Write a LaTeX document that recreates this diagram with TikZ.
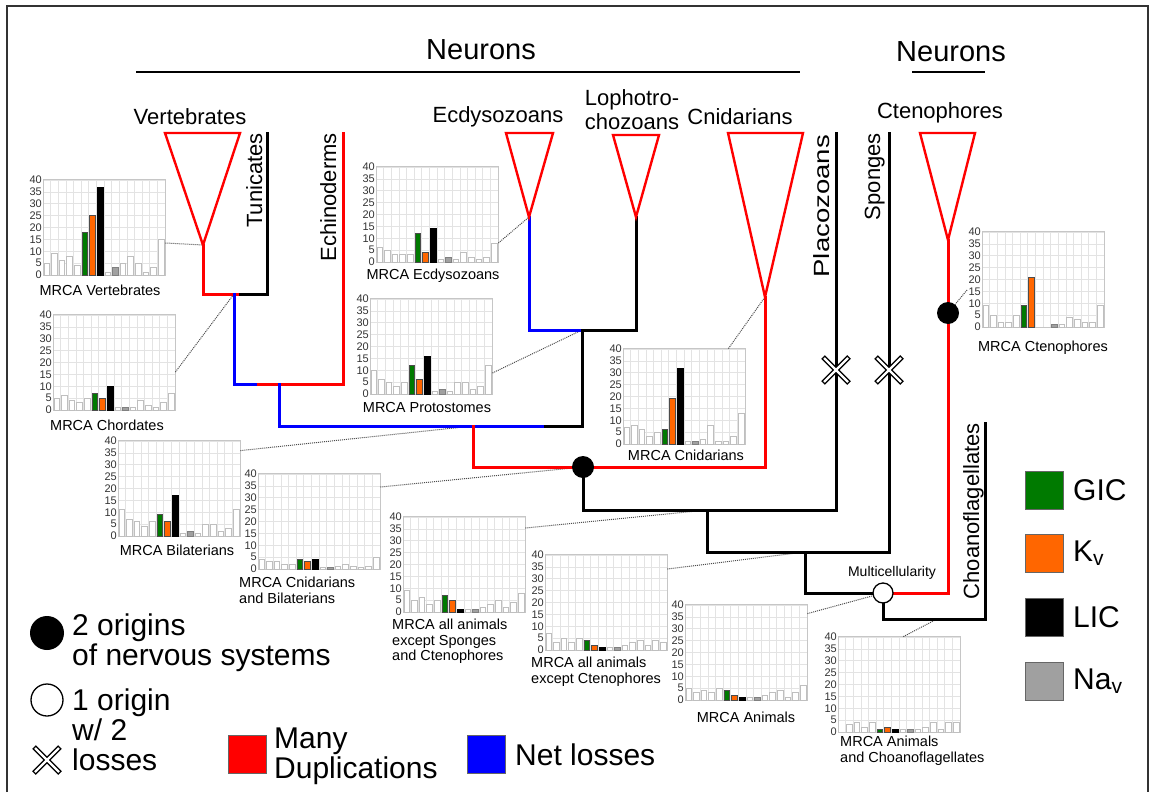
\documentclass[tikz,border=0pt]{standalone}
\usepackage{fontspec}
\setmainfont{Liberation Sans}
\definecolor{gicgreen}{RGB}{0,122,0}
\definecolor{kvorange}{RGB}{255,102,0}
\definecolor{navgray}{RGB}{160,160,160}
\definecolor{dupred}{RGB}{255,0,0}
\definecolor{lossblue}{RGB}{0,0,255}
\tikzset{
  br/.style={line width=3pt,line cap=rect},
  tri/.style={draw=dupred,line width=2.4pt,line join=miter},
  dotln/.style={densely dotted,line width=1pt,gray!60!black},
  gridln/.style={gray!22,line width=0.6pt},
  ticklbl/.style={anchor=east,inner sep=1pt,font=\fontsize{11}{11}\selectfont,text=black!80},
  mrca/.style={font=\fontsize{14.5}{15.5}\selectfont,align=left,inner sep=0pt},
  taxon/.style={font=\fontsize{22}{24}\selectfont,inner sep=0pt},
  legtxt/.style={font=\fontsize{30}{30}\selectfont,anchor=west,align=left,inner sep=0pt},
  legbox/.style={draw=black!60,line width=1pt,minimum size=38pt,inner sep=0pt},
  lossx/.pic={\draw[line width=5pt](-13,-13)--(13,13)(-13,13)--(13,-13);
    \draw[white,line width=2.4pt](-12,-12)--(12,12)(-12,12)--(12,-12);},
}
% histogram: name, x, y of zero line, 16 values
\newcommand\mrcahist[4]{%
\begin{scope}[shift={(#2,#3)}]
\node[fill=white,minimum width=122pt,minimum height=95pt,inner sep=0pt,anchor=south west](#1) at (0,0){};
\foreach \k in {0,...,16} \draw[gridln](\k*7.625,0)--(\k*7.625,-95);
\foreach \j in {0,5,...,40}{\draw[gridln](0,{-\j*2.375})--(122,{-\j*2.375});
  \node[ticklbl](#1t\j) at (0,{-\j*2.375}){\j};}
\draw[gray!45,line width=0.8pt](#1.south west) rectangle (#1.north east);
\foreach \v [count=\k] in {#4}{\def\barfill{white}\def\barline{gray!50}
  \ifnum\k=6 \def\barfill{gicgreen}\def\barline{black!70}\fi
  \ifnum\k=7 \def\barfill{kvorange}\def\barline{black!70}\fi
  \ifnum\k=8 \def\barfill{black}\def\barline{black}\fi
  \ifnum\k=10 \def\barfill{navgray}\def\barline{gray}\fi
  \ifdim\v pt>0pt \draw[fill=\barfill,draw=\barline,line width=0.9pt]({(\k-0.5)*7.625-2.8},0) rectangle ++(5.6,{-\v*2.375});\fi}
\end{scope}}
\begin{document}
\begin{tikzpicture}[x=1pt,y=-1pt]
\useasboundingbox (0,0) rectangle (1153,792);
\draw[black!80,line width=1.5pt](7,792)--(7,6)--(1148,6)--(1148,792);
\node[font=\fontsize{29}{30}\selectfont](neur1) at (481,50){Neurons};
\draw[line width=1.5pt](136,72)--(800,72);
\node[font=\fontsize{29}{30}\selectfont](neur2) at (951,52){Neurons};
\draw[line width=1.5pt](912,72)--(985,72);
%tree points
\coordinate (vert) at (203,245);
\coordinate (tuni) at (267,133);
\coordinate (chord) at (234,294);
\coordinate (echi) at (343,133);
\coordinate (deut) at (279,384);
\coordinate (ecdy) at (529,217);
\coordinate (loph) at (636,217);
\coordinate (proto) at (582,330);
\coordinate (bil) at (473,426);
\coordinate (cnid) at (765,297);
\coordinate (nerv) at (583,467);
\coordinate (plac) at (836,133);
\coordinate (exsp) at (707,510);
\coordinate (spon) at (889,133);
\coordinate (exct) at (805,552);
\coordinate (anim) at (883,593);
\coordinate (cten) at (948,240);
\coordinate (choa) at (985,423);
\coordinate (root) at (937,619);
%histograms
\mrcahist{vhist}{43}{275}{5,9,6,8,4,18,25,37,1,3,5,8,5,1,3,15}
\mrcahist{ehist}{376}{262}{6,5,3,3,3,12,4,14,1,2,1,4,2,1,2,8}
\mrcahist{cthist}{982}{327}{9,5,2,2,5,9,21,0,0,1,1,4,3,2,2,9}
\mrcahist{chhist}{53}{410}{5,6,4,3,5,7,5,10,1,1,1,4,2,1,3,7}
\mrcahist{phist}{370}{394}{10,6,5,3,5,12,6,16,1,2,1,5,5,2,3,12}
\mrcahist{cnhist}{623}{444}{7,8,6,3,5,6,19,32,1,1,2,8,1,1,3,13}
\mrcahist{bhist}{118}{536}{11,7,6,4,6,9,6,17,1,2,1,5,5,2,3,11}
\mrcahist{cbhist}{258}{569}{4,3,3,2,2,4,3,4,0.5,0.5,1,2,1,0.5,1,5}
\mrcahist{ashist}{403}{612}{9,5,6,3,5,7,5,1,1,1,2,3,5,2,4,8}
\mrcahist{achist}{545}{650}{7,3,5,3,5,4,2,1,1,1,2,3,4,2,4,3}
\mrcahist{anhist}{685}{700}{5,3,4,3,5,4,2,1,1,1,2,3,4,1,3,6}
\mrcahist{achohist}{838}{732}{0,3,4,2,4,1,2,1,1,1,1,2,4,1,4,4}
\node[mrca](vlbl) at (100,290){MRCA Vertebrates};
\node[mrca](elbl) at (433,276){MRCA Ecdysozoans};
\node[mrca](ctlbl) at (1043,348){MRCA Ctenophores};
\node[mrca](chlbl) at (107,425){MRCA Chordates};
\node[mrca](plbl) at (427,408){MRCA Protostomes};
\node[mrca](cnlbl) at (686,455){MRCA Cnidarians};
\node[mrca](blbl) at (177,550){MRCA Bilaterians};
\node[mrca,anchor=north west](cblbl) at (239,577){MRCA Cnidarians\\and Bilaterians};
\node[mrca,anchor=north west](aslbl) at (392,619){MRCA all animals\\except Sponges\\and Ctenophores};
\node[mrca,anchor=north west](aclbl) at (531,657){MRCA all animals\\except Ctenophores};
\node[mrca](anlbl) at (746,717){MRCA Animals};
\node[mrca,anchor=north west](acholbl) at (840,736){MRCA Animals\\and Choanoflagellates};
%dotted links
\draw[dotln]([yshift=32pt]vhist.south east)--(vert);
\draw[dotln]([yshift=38pt]chhist.south east)--(chord);
\draw[dotln]([yshift=19pt]ehist.south east)--(ecdy);
\draw[dotln]([yshift=21pt]phist.south east)--(proto);
\draw[dotln]([xshift=-17pt]cnhist.north east)--(cnid);
\draw[dotln]([xshift=-15pt,yshift=37pt]cthist.south west)--(948,313);
\draw[dotln]([yshift=-10pt]bhist.north east)--(bil);
\draw[dotln]([yshift=82pt]cbhist.south east)--(nerv);
\draw[dotln]([yshift=84pt]ashist.south east)--(exsp);
\draw[dotln]([yshift=81pt]achist.south east)--(exct);
\draw[dotln]([yshift=-9pt]anhist.north east)--(anim);
\draw[dotln]([xshift=-57pt]achohist.north east)--(root);
%branches
\draw[br,dupred](vert)|-(240,294);
\draw[br](240,294)-|(tuni);
\draw[br,lossblue](chord)|-(258,384);
\draw[br,dupred](258,384)-|(echi);
\draw[br,lossblue](deut)|-(545,426);
\draw[br](545,426)-|(proto);
\draw[br,lossblue](ecdy)|-(proto);
\draw[br](proto)-|(loph);
\draw[br,dupred](bil)|-(nerv)-|(cnid);
\draw[br](nerv)|-(exsp)-|(plac);
\draw[br](exsp)|-(exct)-|(spon);
\draw[br](exct)|-(anim);
\draw[br,dupred](anim)-|(cten);
\draw[br](anim)|-(root)-|(choa);
%clades
\draw[tri](165,133)--(240,133)--(vert)--cycle;
\draw[tri](506,133)--(553,133)--(ecdy)--cycle;
\draw[tri](613,135)--(659,135)--(loph)--cycle;
\draw[tri](728,133)--(803,133)--(cnid)--cycle;
\draw[tri](920,133)--(975,133)--(cten)--cycle;
\node[circle,fill=black,minimum size=22pt,inner sep=0pt](nervdot) at (nerv){};
\node[circle,fill=black,minimum size=22pt,inner sep=0pt](ctendot) at (948,313){};
\node[circle,fill=white,draw=black,line width=1.3pt,minimum size=20pt,inner sep=0pt](animdot) at (anim){};
\pic at (836,370){lossx};
\pic at (889,370){lossx};
\node[font=\fontsize{14}{15}\selectfont](multi) at (892,573){Multicellularity};
%taxa
\node[taxon](vertlbl) at (190,117){Vertebrates};
\node[taxon](ecdylbl) at (498,117){Ecdysozoans};
\node[taxon,align=center](lophlbl) at (632,110){Lophotro-\\chozoans};
\node[taxon](cnidlbl) at (740,117){Cnidarians};
\node[taxon](ctenlbl) at (940,113){Ctenophores};
\node[taxon,rotate=90,anchor=base east](tunilbl) at (262,133){Tunicates};
\node[taxon,rotate=90,anchor=base east](echilbl) at (336,133){Echinoderms};
\node[taxon,rotate=90,anchor=base east](placlbl) at (829,135){\scalebox{1.25}[1]{Placozoans}};
\node[taxon,rotate=90,anchor=base east](sponlbl) at (880,133){Sponges};
\node[taxon,rotate=90,anchor=base east](choalbl) at (979,423){Choanoflagellates};
%legend
\node[circle,fill=black,minimum size=34pt,inner sep=0pt](legfull) at (47,633){};
\node[legtxt](legfulltxt) at (72,643){2 origins\\of nervous systems};
\node[circle,draw=black,line width=1.3pt,fill=white,minimum size=32pt,inner sep=0pt](legopen) at (47,700){};
\pic at (47,760){lossx};
\node[legtxt](legopentxt) at (72,730){1 origin\\w/ 2\\losses};
\node[legbox,fill=dupred,anchor=north west](legred) at (228,735){};
\node[legtxt](legredtxt) at (274,756){Many\\Duplications};
\node[legbox,fill=lossblue,anchor=north west](legblue) at (467,735){};
\node[legtxt](legbluetxt) at (515,755){Net losses};
\node[legbox,fill=gicgreen,anchor=north west](leggic) at (1025,471){};
\node[legtxt](leggictxt) at (1073,490){GIC};
\node[legbox,fill=kvorange,anchor=north west](legkv) at (1025,534){};
\node[legtxt](legkvtxt) at (1073,553){K\textsubscript{v}};
\node[legbox,fill=black,anchor=north west](leglic) at (1025,598){};
\node[legtxt](leglictxt) at (1073,617){LIC};
\node[legbox,fill=navgray,anchor=north west](legnav) at (1025,662){};
\node[legtxt](legnavtxt) at (1073,681){Na\textsubscript{v}};
\end{tikzpicture}
\end{document}
